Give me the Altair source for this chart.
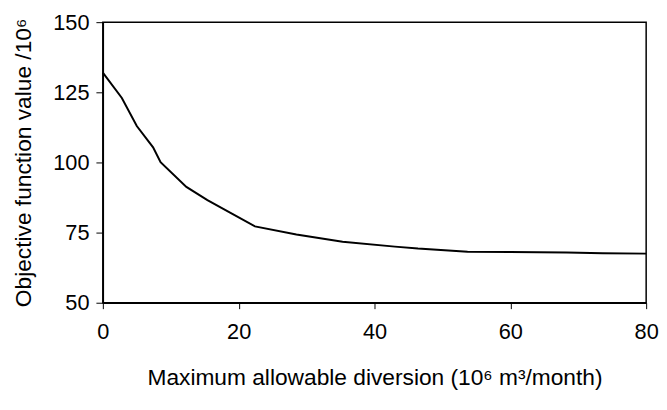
import altair as alt
import pandas as pd

diversion = [0, 2.8, 5, 7.4, 8.5, 12.3, 15.4, 18.8, 22.4, 28.5, 35.3, 43, 46.4, 53.7, 60, 68.3, 73.6, 80]
objective = [132, 123, 113, 105.4, 100.1, 91.3, 86.6, 82, 77.2, 74.3, 71.7, 70, 69.3, 68.2, 68.1, 67.9, 67.6, 67.5]
x_ticks = [0, 20, 40, 60, 80]
y_ticks = [50, 75, 100, 125, 150]

df = pd.DataFrame({"x": diversion, "y": objective})

FONT = "Liberation Sans"

chart = alt.Chart(df).mark_line(color="black", strokeWidth=2).encode(
    x=alt.X("x:Q", scale=alt.Scale(domain=[0, 80], nice=False),
            axis=alt.Axis(values=x_ticks, title="Maximum allowable diversion (10\u2076 m\u00b3/month)",
                          titlePadding=25, labelPadding=13, tickSize=6, titleFontSize=23)),
    y=alt.Y("y:Q", scale=alt.Scale(domain=[50, 150], nice=False, zero=False),
            axis=alt.Axis(values=y_ticks, title="Objective function value /10\u2076",
                          titlePadding=18, labelPadding=7, tickSize=7, titleFontSize=23)),
).properties(
    width=550, height=284,
    autosize=alt.AutoSizeParams(type="none"),
    padding={"left": 96, "top": 12, "right": 13, "bottom": 86},
).configure_view(
    stroke="black", strokeWidth=1.5
).configure_axis(
    grid=False, domainColor="black", domainWidth=1.5, tickColor="black", tickWidth=1,
    labelFont=FONT, titleFont=FONT, labelFontSize=22,
    labelColor="black", titleColor="black", titleFontWeight="normal", labelFlush=False,
    labelOverlap=False
)

chart.save("out.html", embed_options={"renderer": "svg", "actions": False})
